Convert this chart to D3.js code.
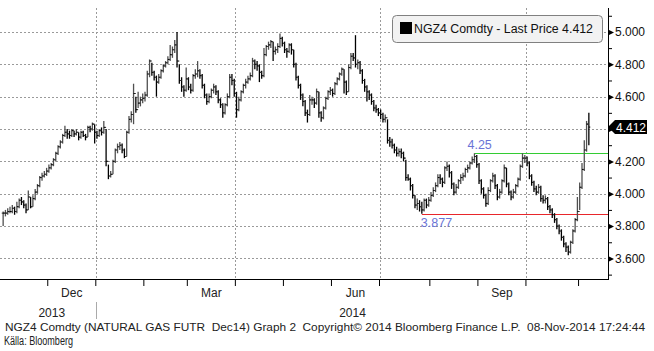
<!DOCTYPE html>
<html>
<head>
<meta charset="utf-8">
<script src="https://cdnjs.cloudflare.com/ajax/libs/d3/7.8.5/d3.min.js"></script>
<style>
  body { margin: 0; background: #fff; }
  svg text { font-family: "Liberation Sans", Arial, sans-serif; }
</style>
</head>
<body>
<script>
// NGZ4 natural gas futures, daily bars Nov 2013 - Nov 2014

// trading days: weekdays from first to last, minus exchange holidays
const firstDay = "2013-11-01";
const lastDay = "2014-11-07";
const holidays = ["2013-11-28", "2013-12-25", "2014-01-01", "2014-01-20", "2014-02-17",
                  "2014-04-18", "2014-05-26", "2014-07-04", "2014-09-01"];

// closing prices, one row per month
const closes = [
  3.88,3.88,3.89,3.89,3.91,3.89,3.92,3.96,3.95,3.93,3.90,3.98,3.92,3.97,4.01,4.05,4.10,4.11,4.12,4.14,
  4.16,4.18,4.21,4.25,4.29,4.32,4.36,4.38,4.37,4.36,4.39,4.37,4.38,4.35,4.38,4.36,4.35,4.41,4.40,4.43,4.38,
  4.36,4.39,4.38,4.41,4.20,4.11,4.12,4.20,4.27,4.29,4.30,4.27,4.23,4.38,4.46,4.49,4.62,4.52,4.56,4.58,4.59,
  4.61,4.74,4.82,4.75,4.72,4.69,4.72,4.76,4.79,4.81,4.83,4.86,4.89,4.92,4.82,4.70,4.66,4.64,4.71,
  4.66,4.64,4.73,4.74,4.76,4.73,4.67,4.61,4.57,4.60,4.64,4.66,4.63,4.58,4.55,4.50,4.55,4.60,4.72,4.70,4.62,
  4.52,4.58,4.63,4.67,4.69,4.71,4.73,4.82,4.80,4.79,4.75,4.73,4.86,4.91,4.92,4.94,4.88,4.89,4.91,4.96,4.93,
  4.89,4.88,4.92,4.89,4.80,4.72,4.67,4.61,4.57,4.50,4.49,4.58,4.58,4.56,4.63,4.50,4.47,4.53,4.59,4.63,4.64,
  4.62,4.68,4.71,4.74,4.77,4.69,4.63,4.78,4.85,4.84,4.80,4.81,4.76,4.70,4.66,4.63,4.61,4.57,4.53,4.52,4.50,
  4.49,4.46,4.47,4.33,4.32,4.30,4.27,4.25,4.26,4.25,4.22,4.10,4.09,4.05,3.99,3.93,3.94,3.92,3.90,3.96,3.93,3.96,
  3.99,4.02,4.05,4.10,4.09,4.07,4.16,4.17,4.13,4.06,4.01,4.04,4.08,4.10,4.11,4.15,4.16,4.19,4.21,4.23,4.18,
  4.08,4.03,3.99,3.94,4.02,4.08,4.11,4.05,3.98,4.01,4.08,4.16,4.06,4.01,3.98,4.01,4.05,4.09,4.17,4.22,4.22,
  4.19,4.11,4.07,4.03,4.01,4.04,3.97,3.96,3.97,3.92,3.90,3.87,3.84,3.80,3.77,3.73,3.69,3.67,3.64,3.70,3.77,3.84,3.89,
  4.04,4.15,4.27,4.43,4.412
];

const highs = [
  3.89,3.90,3.91,3.92,3.93,3.92,3.95,3.97,3.98,3.96,3.94,4.02,3.98,3.99,4.03,4.06,4.11,4.13,4.14,4.16,
  4.18,4.19,4.22,4.26,4.30,4.33,4.37,4.42,4.40,4.39,4.40,4.39,4.40,4.38,4.39,4.39,4.37,4.42,4.42,4.44,4.43,
  4.39,4.40,4.41,4.45,4.40,4.18,4.14,4.21,4.28,4.31,4.32,4.31,4.28,4.39,4.48,4.51,4.68,4.60,4.63,4.60,4.62,
  4.63,4.76,4.83,4.81,4.76,4.73,4.74,4.77,4.80,4.82,4.85,4.92,4.91,4.95,5.00,4.80,4.72,4.67,4.78,
  4.72,4.68,4.74,4.77,4.82,4.77,4.74,4.68,4.62,4.62,4.65,4.68,4.67,4.64,4.59,4.56,4.56,4.62,4.74,4.74,4.71,
  4.63,4.60,4.64,4.68,4.71,4.73,4.75,4.84,4.83,4.82,4.80,4.76,4.90,4.92,4.94,4.95,4.94,4.91,4.93,4.99,4.97,
  4.94,4.90,4.93,4.93,4.89,4.81,4.73,4.68,4.62,4.58,4.52,4.61,4.60,4.59,4.65,4.63,4.51,4.54,4.60,4.64,4.66,
  4.65,4.69,4.72,4.75,4.78,4.77,4.70,4.80,4.87,4.87,4.98,4.83,4.82,4.77,4.71,4.67,4.64,4.62,4.58,4.55,4.53,
  4.52,4.50,4.49,4.46,4.35,4.34,4.31,4.29,4.28,4.28,4.26,4.21,4.12,4.10,4.06,3.99,3.97,3.96,3.95,3.97,3.97,3.98,
  4.01,4.04,4.07,4.12,4.12,4.10,4.17,4.20,4.18,4.14,4.07,4.06,4.09,4.12,4.13,4.16,4.18,4.20,4.23,4.25,4.24,
  4.19,4.09,4.04,4.00,4.04,4.09,4.13,4.12,4.06,4.03,4.09,4.18,4.16,4.07,4.02,4.03,4.06,4.10,4.18,4.25,4.24,
  4.23,4.20,4.12,4.08,4.05,4.06,4.05,3.99,3.99,3.98,3.93,3.91,3.88,3.85,3.81,3.78,3.74,3.70,3.68,3.71,3.78,3.85,3.98,
  4.07,4.19,4.33,4.45,4.50
];

const lows = [
  3.80,3.86,3.87,3.88,3.88,3.87,3.88,3.91,3.93,3.91,3.88,3.90,3.91,3.92,3.96,4.00,4.04,4.08,4.10,4.11,
  4.13,4.15,4.17,4.20,4.24,4.28,4.31,4.35,4.34,4.34,4.35,4.35,4.36,4.33,4.34,4.35,4.33,4.35,4.38,4.39,4.31,
  4.34,4.35,4.36,4.37,4.17,4.09,4.10,4.12,4.19,4.25,4.27,4.25,4.22,4.23,4.37,4.44,4.43,4.50,4.53,4.54,4.56,
  4.57,4.60,4.72,4.73,4.70,4.60,4.68,4.71,4.75,4.78,4.80,4.82,4.84,4.87,4.78,4.68,4.63,4.60,4.63,
  4.64,4.62,4.63,4.71,4.72,4.71,4.65,4.59,4.55,4.56,4.59,4.62,4.61,4.56,4.53,4.47,4.49,4.54,4.59,4.67,4.60,
  4.47,4.51,4.57,4.62,4.65,4.68,4.70,4.72,4.77,4.76,4.69,4.71,4.72,4.85,4.89,4.90,4.82,4.86,4.87,4.90,4.91,
  4.87,4.84,4.87,4.86,4.78,4.70,4.65,4.58,4.54,4.48,4.44,4.48,4.55,4.53,4.55,4.47,4.445,4.46,4.52,4.58,4.61,
  4.60,4.61,4.67,4.70,4.73,4.62,4.61,4.63,4.77,4.82,4.78,4.77,4.74,4.68,4.63,4.57,4.58,4.55,4.51,4.50,4.48,
  4.46,4.44,4.44,4.31,4.29,4.28,4.25,4.23,4.23,4.22,4.20,4.08,4.08,4.02,3.97,3.91,3.90,3.89,3.877,3.89,3.91,3.92,
  3.95,3.98,4.01,4.04,4.06,4.04,4.06,4.14,4.10,4.03,3.99,4.00,4.03,4.06,4.08,4.10,4.13,4.15,4.18,4.19,4.16,
  4.06,4.00,3.97,3.92,3.93,4.01,4.07,4.03,3.96,3.97,4.00,4.07,4.04,3.99,3.96,3.97,4.00,4.04,4.08,4.16,4.19,
  4.17,4.09,4.05,4.01,3.99,4.00,3.95,3.94,3.94,3.90,3.88,3.85,3.82,3.78,3.75,3.71,3.67,3.64,3.62,3.63,3.69,3.76,3.83,
  3.90,4.03,4.14,4.26,4.30
];

const yTicks = [3.6, 3.8, 4.0, 4.2, 4.4, 4.6, 4.8, 5.0];
const yMinorTicks = [3.5, 3.7, 3.9, 4.1, 4.3, 4.5, 4.7, 4.9, 5.1];
const monthLabels = [{month: "2013-12", text: "Dec"}, {month: "2014-03", text: "Mar"},
                     {month: "2014-06", text: "Jun"}, {month: "2014-09", text: "Sep"}];
const yearLabels = [{month: "2013-12", text: "2013"}, {month: "2014-06", text: "2014"}];
const quarterStarts = ["2014-01", "2014-04", "2014-07", "2014-10"];
const lastPrice = 4.412;
const levels = [
  {value: 4.25, text: "4.25", from: "2014-08-28", color: "#33cc33"},
  {value: 3.877, text: "3.877", from: "2014-07-28", color: "#e8262b"}
];
const legendText = "NGZ4 Comdty - Last Price 4.412";
const footer = "NGZ4 Comdty (NATURAL GAS FUTR  Dec14) Graph 2  Copyright\u00a9 2014 Bloomberg Finance L.P.  08-Nov-2014 17:24:44";
const source = "K\u00e4lla: Bloomberg";

// ----- dates -----
const fmt = d3.timeFormat("%Y-%m-%d");
const parse = d3.timeParse("%Y-%m-%d");
const days = d3.timeDay.range(parse(firstDay), d3.timeDay.offset(parse(lastDay), 1))
  .filter(d => d.getDay() !== 0 && d.getDay() !== 6 && !holidays.includes(fmt(d)))
  .map(fmt);

const bars = days.map((d, i) => ({date: d, high: highs[i], low: lows[i], close: closes[i],
                                  prev: i ? closes[i - 1] : closes[0]}));

const width = 654, height = 351;
const plotLeft = 0, plotRight = 608, plotTop = 8, plotBottom = 279;

const svg = d3.select("body").append("svg")
  .attr("width", width)
  .attr("height", height);

const x = d3.scaleBand()
  .domain(days)
  .range([2, 590])
  .paddingInner(0)
  .paddingOuter(0);

const y = d3.scaleLinear()
  .domain([3.473, 5.148])
  .range([plotBottom, plotTop]);

const bw = x.bandwidth();
const cx = d => x(d) + bw / 2;

// first trading day of each month
const monthFirsts = days.filter((d, i) => i === 0 || d.slice(0, 7) !== days[i - 1].slice(0, 7));
const firstOf = m => monthFirsts.find(d => d.startsWith(m));
const lastOf = m => days.filter(d => d.startsWith(m)).pop();

// ----- grid -----
const grid = svg.append("g").attr("stroke", "#9a9a9a").attr("stroke-dasharray", "2,2");
grid.selectAll(".hg").data(yTicks).enter().append("line")
  .attr("x1", plotLeft).attr("x2", plotRight)
  .attr("y1", d => Math.round(y(d)) + 0.5).attr("y2", d => Math.round(y(d)) + 0.5);
grid.selectAll(".vg").data(quarterStarts).enter().append("line")
  .attr("x1", d => Math.round(x(firstOf(d))) + 0.5).attr("x2", d => Math.round(x(firstOf(d))) + 0.5)
  .attr("y1", plotTop).attr("y2", plotBottom);

// ----- support / resistance lines -----
const lv = svg.append("g");
lv.selectAll("line").data(levels).enter().append("line")
  .attr("x1", d => cx(d.from)).attr("x2", plotRight)
  .attr("y1", d => Math.round(y(d.value)) + 0.5).attr("y2", d => Math.round(y(d.value)) + 0.5)
  .attr("stroke", d => d.color).attr("stroke-width", 1);
lv.append("text").attr("x", cx(levels[0].from) - 7).attr("y", y(levels[0].value) - 4)
  .attr("font-size", 12.5).attr("fill", "#6a74d6").text(levels[0].text);
lv.append("text").attr("x", cx(levels[1].from) - 1).attr("y", y(levels[1].value) + 13)
  .attr("font-size", 12.5).attr("fill", "#6a74d6").text(levels[1].text);

// ----- price bars (high-low, open tick = prior close, close tick) -----
const barG = svg.append("g");
barG.selectAll(".hl").data(bars).enter().append("line")
  .attr("x1", d => cx(d.date)).attr("x2", d => cx(d.date))
  .attr("y1", d => y(d.high)).attr("y2", d => y(d.low))
  .attr("stroke", d => d.close >= d.prev ? "#505050" : "#000")
  .attr("stroke-width", 1.3);
barG.selectAll(".cl").data(bars).enter().append("line")
  .attr("x1", d => cx(d.date)).attr("x2", d => cx(d.date) + 1.4)
  .attr("y1", d => y(d.close)).attr("y2", d => y(d.close))
  .attr("stroke", "#000").attr("stroke-width", 1.1);
barG.selectAll(".op").data(bars).enter().append("line")
  .attr("x1", d => cx(d.date) - 1.4).attr("x2", d => cx(d.date))
  .attr("y1", d => y(d.prev)).attr("y2", d => y(d.prev))
  .attr("stroke", "#333").attr("stroke-width", 1.1);

// ----- legend -----
const leg = svg.append("g");
leg.append("rect").attr("x", 392.5).attr("y", 15.5).attr("width", 210).attr("height", 27)
  .attr("rx", 4).attr("fill", "#f2f2f2").attr("stroke", "#808080");
leg.append("rect").attr("x", 400).attr("y", 22).attr("width", 12).attr("height", 12).attr("fill", "#000");
leg.append("text").attr("x", 414).attr("y", 33).attr("font-size", 12).attr("fill", "#111")
  .attr("textLength", 179).attr("lengthAdjust", "spacingAndGlyphs").text(legendText);

// ----- right axis -----
const tagClear = d => Math.abs(d - lastPrice) < 0.06;
const yAxis = svg.append("g")
  .attr("transform", `translate(${plotRight},0)`)
  .call(d3.axisRight(y).tickValues(yTicks).tickSize(0).tickPadding(7)
        .tickFormat(d => tagClear(d) ? "" : d3.format(".3f")(d)));
yAxis.select(".domain").remove();
yAxis.selectAll("text").attr("font-size", 12).attr("fill", "#111")
  .attr("font-family", "Liberation Sans, Arial, sans-serif");
yAxis.selectAll(".tick").append("path").attr("d", "M0,-3L6,0L0,3Z").attr("fill", "#000");

const yMinor = svg.append("g")
  .attr("transform", `translate(${plotRight},0)`)
  .call(d3.axisRight(y).tickValues(yMinorTicks).tickSize(4).tickFormat(""));
yMinor.select(".domain").remove();
yMinor.selectAll("line").attr("stroke", "#000");

svg.append("line").attr("x1", plotRight + 0.5).attr("x2", plotRight + 0.5)
  .attr("y1", plotTop).attr("y2", plotBottom).attr("stroke", "#000");

// last price tag
const ty = y(lastPrice);
svg.append("path")
  .attr("d", `M${plotRight},${ty} L${plotRight + 7},${ty - 7} L647,${ty - 7} L647,${ty + 7} L${plotRight + 7},${ty + 7} Z`)
  .attr("fill", "#000");
svg.append("text").attr("x", 631).attr("y", ty + 4.5).attr("text-anchor", "middle")
  .attr("font-size", 12).attr("fill", "#fff").text(d3.format(".3f")(lastPrice));

// ----- bottom axis -----
const xAxis = svg.append("g")
  .attr("transform", `translate(${-bw / 2},${plotBottom})`)
  .call(d3.axisBottom(x).tickValues(monthFirsts.slice(1)).tickSize(7).tickFormat(""));
xAxis.select(".domain").remove();
xAxis.selectAll("line").attr("stroke", "#000");
svg.append("line").attr("x1", plotLeft).attr("x2", plotRight + 1)
  .attr("y1", plotBottom + 0.5).attr("y2", plotBottom + 0.5).attr("stroke", "#000");

svg.append("g").selectAll("text").data(monthLabels).enter().append("text")
  .attr("x", d => (x(firstOf(d.month)) + x(lastOf(d.month)) + bw) / 2)
  .attr("y", plotBottom + 18).attr("text-anchor", "middle")
  .attr("font-size", 12).attr("fill", "#222").text(d => d.text);

svg.append("g").selectAll("text").data(yearLabels).enter().append("text")
  .attr("x", d => (x(firstOf(d.month)) + x(lastOf(d.month)) + bw) / 2 - (d.text === "2013" ? 20 : 3))
  .attr("y", plotBottom + 38).attr("text-anchor", "middle")
  .attr("font-size", 12).attr("fill", "#222").text(d => d.text);

svg.append("line")
  .attr("x1", Math.round(x(firstOf("2014-01"))) + 0.5).attr("x2", Math.round(x(firstOf("2014-01"))) + 0.5)
  .attr("y1", plotBottom + 23).attr("y2", plotBottom + 40).attr("stroke", "#aaa");

// ----- footer -----
svg.append("text").attr("x", 5).attr("y", 331).attr("font-size", 11.5).attr("fill", "#222")
  .style("white-space", "pre")
  .attr("textLength", 640).attr("lengthAdjust", "spacingAndGlyphs").text(footer);
svg.append("text").attr("x", 4).attr("y", 345).attr("font-size", 12).attr("fill", "#222")
  .attr("textLength", 69).attr("lengthAdjust", "spacingAndGlyphs").text(source);
</script>
</body>
</html>
